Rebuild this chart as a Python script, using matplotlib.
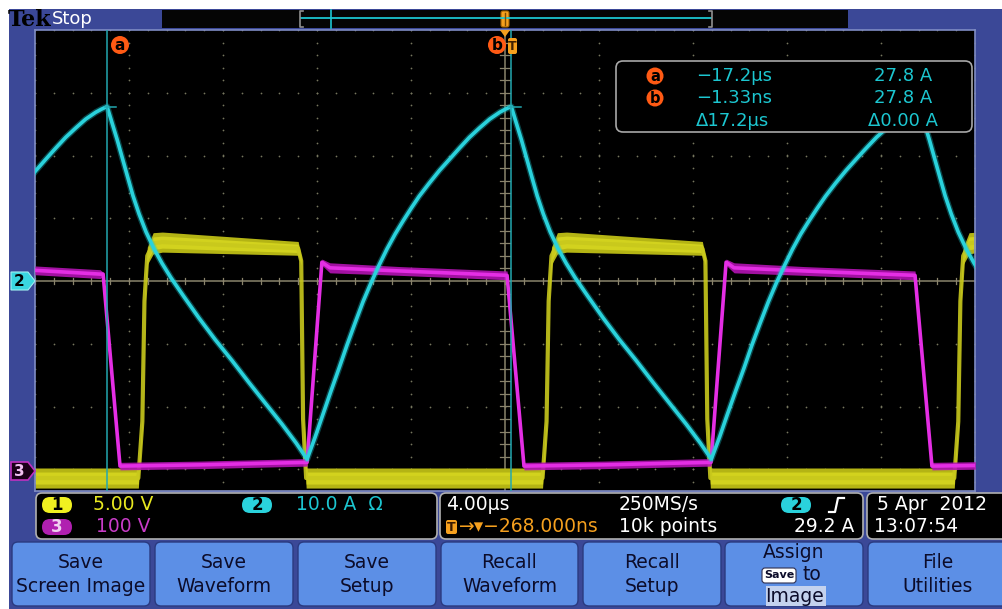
import matplotlib
matplotlib.use("Agg")
import matplotlib.pyplot as plt
from matplotlib.patches import FancyBboxPatch, Rectangle, Circle, Polygon
import numpy as np

W, H = 1002, 609

# ---------------- scope settings ----------------
time_per_div = 4.0        # µs/div
t_center = -0.268         # µs at screen centre
ch1_scale = 5.0           # V/div (yellow)
ch2_scale = 10.0          # A/div (cyan)
ch3_scale = 100.0         # V/div (magenta)
ch1_pos = -3.0            # div
ch2_pos = 0.0
ch3_pos = -3.0

cursor_a_t = -17.2        # µs
cursor_b_t = -0.00133     # µs
cursor_i = 27.8           # A

# ---------------- Ch2 : inductor current (A) ----------------
ch2_t = [-20.66, -20.23, -19.81, -19.38, -18.96, -18.53, -18.11, -17.68, -17.43, -17.20,
         -16.99, -16.77, -16.56, -16.35, -16.10, -15.84, -15.54, -15.20, -14.86, -14.48,
         -13.93, -13.29, -12.61, -11.88, -11.16, -10.44, -9.76, -9.16, -8.69,
         -8.35, -8.01, -7.67, -7.33, -6.99, -6.65, -6.31, -5.97, -5.63, -5.29, -4.94,
         -4.60, -4.26, -3.92, -3.49, -3.06, -2.63, -2.20, -1.78, -1.35, -0.92, -0.49,
         -0.24, 0.00,
         0.21, 0.43, 0.64, 0.85, 1.10, 1.36, 1.66, 2.00, 2.34, 2.72,
         3.27, 3.91, 4.59, 5.32, 6.04, 6.76, 7.44, 8.04, 8.51,
         8.86, 9.20, 9.55, 9.90, 10.24, 10.59, 10.94, 11.28, 11.63, 11.97, 12.32,
         12.67, 13.02, 13.37, 13.80, 14.24, 14.67, 15.11, 15.54, 15.98, 16.40, 16.84,
         17.10, 17.36,
         17.57, 17.79, 18.00, 18.21, 18.46, 18.72, 19.02, 19.36, 19.70, 20.08]
ch2_i = [15.6, 17.6, 19.4, 21.2, 22.9, 24.4, 25.8, 26.9, 27.4, 27.8,
         25.2, 22.5, 19.7, 16.9, 13.6, 10.7, 7.8, 5.1, 2.8, 0.5,
         -2.5, -5.9, -9.3, -12.7, -16.2, -19.6, -22.8, -25.8, -28.4,
         -24.9, -21.2, -17.5, -13.9, -10.2, -6.7, -3.3, -0.3, 2.5, 5.1, 7.5,
         9.6, 11.6, 13.5, 15.6, 17.6, 19.4, 21.2, 22.9, 24.4, 25.8, 26.9,
         27.4, 27.8,
         25.2, 22.5, 19.7, 16.9, 13.6, 10.7, 7.8, 5.1, 2.8, 0.5,
         -2.5, -5.9, -9.3, -12.7, -16.2, -19.6, -22.8, -25.8, -28.4,
         -24.9, -21.2, -17.5, -13.9, -10.2, -6.7, -3.3, -0.3, 2.5, 5.1, 7.5,
         9.6, 11.6, 13.5, 15.6, 17.6, 19.4, 21.2, 22.9, 24.4, 25.8, 26.9,
         27.4, 27.8,
         25.2, 22.5, 19.7, 16.9, 13.6, 10.7, 7.8, 5.1, 2.8, 0.5]

# ---------------- Ch3 : switch node voltage (V) ----------------
ch3_t = [-20.27, -17.50, -17.37, -16.65, -13.25, -8.69, -8.06, -7.72, -4.74, -0.18,
         0.54, 3.94, 8.50, 9.14, 9.48, 12.46, 17.18, 17.90, 19.75]
ch3_v = [317, 311, 311, 5, 7, 11, 330, 321, 316, 309,
         5, 7, 11, 330, 321, 316, 309, 5, 6]
ch3_noise = [7, 7, 3, 6, 6, 6, 5, 8, 7, 7,
             6, 6, 6, 5, 8, 7, 7, 6, 6]      # half-width of the noise band (V)

# ---------------- Ch1 : gate drive (V) ----------------
ch1_t = [-20.27, -15.87, -15.70, -15.61, -15.49, -15.24, -14.85, -9.07, -8.94, -8.86, -8.73,
         1.33, 1.50, 1.59, 1.71, 1.96, 2.35, 8.13, 8.26, 8.34, 8.47,
         18.85, 19.02, 19.11, 19.23, 19.48, 19.87]
ch1_v = [-0.7, -0.7, 3.8, 13.4, 17.0, 18.0, 18.1, 17.6, 16.6, 4.0, -0.7,
         -0.7, 3.8, 13.4, 17.0, 18.0, 18.1, 17.6, 16.6, 4.0, -0.7,
         -0.7, 3.8, 13.4, 17.0, 18.0, 18.1]
ch1_noise = [0.8, 0.8, 0.25, 0.25, 0.7, 0.85, 0.8, 0.55, 0.35, 0.25, 0.8,
             0.8, 0.25, 0.25, 0.7, 0.85, 0.8, 0.55, 0.35, 0.25, 0.8,
             0.8, 0.25, 0.25, 0.7, 0.85, 0.8]   # half-width of the noise band (V)

# ---------------- colours ----------------
BLUE = '#3b4897'
BTN = '#5c8fe6'
CYAN = '#1cc6d0'
ORANGE = '#ff5a14'
TORANGE = '#f5a01e'
GRID = '#76765e'

fig = plt.figure(figsize=(W / 100, H / 100), dpi=100)
fig.patch.set_facecolor('white')

# ---------------- background layer ----------------
bg = fig.add_axes([0, 0, 1, 1], zorder=0)
bg.set_xlim(0, W); bg.set_ylim(H, 0); bg.axis('off')
bg.add_patch(Rectangle((9, 9), W - 9, H - 9, color=BLUE, lw=0))

# top bar
bg.text(8, 20, 'Tek', family='DejaVu Serif', weight='bold', fontsize=16,
        color='black', va='center', ha='left')
bg.text(52, 19, 'Stop', family='DejaVu Sans', fontsize=13, color='white', va='center', ha='left')
bg.add_patch(Rectangle((162, 10), 686, 18, color='#050505', lw=0))
bg.plot([301, 711], [18, 18], color=CYAN, lw=1.3)
bg.plot([331, 331], [10, 28], color=CYAN, lw=1.2)
for xb, d in [(300, 1), (712, -1)]:
    bg.plot([xb + 3 * d, xb, xb, xb + 3 * d], [11, 11, 27, 27], color='#909090', lw=1.2)
bg.add_patch(FancyBboxPatch((501, 11), 8, 16, boxstyle='round,pad=0,rounding_size=2',
                            fc=TORANGE, ec='#a06000', lw=0.8))
bg.plot([505, 505], [13, 25], color='#7a4a00', lw=1)

# ---------------- scope graticule ----------------
ytop_px, ybot_px, ycen_px, px_div = 30, 491, 281, 62.75
ax = fig.add_axes([35 / W, 1 - ybot_px / H, 940 / W, (ybot_px - ytop_px) / H], zorder=1)
ax.set_facecolor('black')
ax.set_xlim(t_center - 5 * time_per_div, t_center + 5 * time_per_div)
ax.set_ylim(-(ybot_px - ycen_px) / px_div, 4)
ax.set_xticks([]); ax.set_yticks([])
for s in ax.spines.values():
    s.set_color('#7f8cc4'); s.set_linewidth(1.2)

xmaj = t_center + time_per_div * np.arange(-5, 6)
ymaj = np.arange(-3, 5)
xmin_ = t_center + time_per_div * np.arange(-5, 5.01, 0.2)
ymin_ = np.arange(-4, 4.01, 0.2)
for xv in xmaj:
    if abs(xv - t_center) > 1e-6:
        ax.scatter(np.full(ymin_.size, xv), ymin_, s=1.6, color=GRID, lw=0, zorder=1)
for yv in ymaj:
    if yv != 0:
        ax.scatter(xmin_, np.full(xmin_.size, yv), s=1.6, color=GRID, lw=0, zorder=1)
ax.axhline(0, color='#8a846c', lw=1.1, zorder=1)
ax.axvline(t_center, color='#8a846c', lw=1.1, zorder=1)
for xv in xmin_:
    ax.plot([xv, xv], [-0.05, 0.05], color='#8a846c', lw=0.9, zorder=1)
for yv in ymin_:
    ax.plot([t_center - 0.2, t_center + 0.2], [yv, yv], color='#8a846c', lw=0.9, zorder=1)

# traces (converted to divisions)
y1 = np.array(ch1_v) / ch1_scale + ch1_pos
n1 = np.array(ch1_noise) / ch1_scale
y2 = np.array(ch2_i) / ch2_scale + ch2_pos
y3 = np.array(ch3_v) / ch3_scale + ch3_pos
n3 = np.array(ch3_noise) / ch3_scale

ax.fill_between(ch1_t, y1 - n1, y1 + n1, color='#b4b414', lw=0, zorder=2)
ax.fill_between(ch1_t, y1 - n1 * 0.6, y1 + n1 * 0.6, color='#d2d21e', lw=0, zorder=2)
ax.plot(ch1_t, y1, color='#c8c81c', lw=3.0, alpha=0.9, zorder=2)
ax.fill_between(ch3_t, y3 - n3, y3 + n3, color='#b414b4', lw=0, alpha=0.9, zorder=3)
ax.plot(ch3_t, y3, color='#e42ee4', lw=2.6, zorder=3)
ax.plot(ch2_t, y2, color=CYAN, lw=4.6, alpha=0.35, zorder=4, solid_joinstyle='round')
ax.plot(ch2_t, y2, color='#2ad2dc', lw=2.6, zorder=4, solid_joinstyle='round')

ax.axvline(cursor_a_t, color='#22a8b0', lw=1.1, zorder=5)
ax.axvline(cursor_b_t, color='#22a8b0', lw=1.1, zorder=5)
for ct in (cursor_a_t, cursor_b_t):
    ax.plot([ct - 0.1, ct + 0.4], [cursor_i / ch2_scale] * 2, color='#22a8b0', lw=1.1, zorder=5)

# ---------------- foreground layer ----------------
fg = fig.add_axes([0, 0, 1, 1], zorder=3)
fg.set_xlim(0, W); fg.set_ylim(H, 0); fg.axis('off'); fg.patch.set_alpha(0)

def badge(x, y, letter, r=9, fs=11):
    fg.add_patch(Circle((x, y), r, fc=ORANGE, ec='none'))
    fg.text(x, y + 0.5, letter, color='black', fontsize=fs, weight='bold', ha='center', va='center')

badge(120, 45, 'a')
badge(497, 45, 'b')
fg.add_patch(FancyBboxPatch((508, 38), 9, 16, boxstyle='round,pad=0,rounding_size=2',
                            fc=TORANGE, ec='none'))
fg.text(512.5, 46, 'T', color='#402000', fontsize=9, weight='bold', ha='center', va='center')
fg.add_patch(Polygon([[500, 30], [510, 30], [505, 37]], closed=True, fc=TORANGE, ec='none'))

# channel markers on left
fg.add_patch(Polygon([[11, 272], [28, 272], [35, 281], [28, 290], [11, 290]], closed=True,
                     fc='#3ad6e0', ec='#a0f0f0', lw=0.8))
fg.text(19, 281, '2', color='black', fontsize=11, weight='bold', ha='center', va='center')
fg.add_patch(Polygon([[11, 462], [28, 462], [35, 471], [28, 480], [11, 480]], closed=True,
                     fc='#1a0018', ec='#c030c0', lw=1.2))
fg.text(19, 471, '3', color='#f0c0f0', fontsize=11, weight='bold', ha='center', va='center')

# measurement readout box
fg.add_patch(FancyBboxPatch((616, 61), 356, 71, boxstyle='round,pad=0,rounding_size=7',
                            fc='black', ec='#a8a8a8', lw=1.2))
rows = [(76, 'a', '\u221217.2\u00b5s', '27.8 A'),
        (98, 'b', '\u22121.33ns', '27.8 A'),
        (121, None, '\u039417.2\u00b5s', '\u03940.00 A')]
for yy, lab, tv, av in rows:
    if lab:
        badge(655, yy, lab, r=8.5, fs=10.5)
    fg.text(696, yy, tv, color=CYAN, fontsize=13, ha='left', va='center')
    fg.text(903, yy, av, color=CYAN, fontsize=13, ha='center', va='center')

# bottom readout panels
for x0, x1 in [(36, 437), (440, 863), (867, 1010)]:
    fg.add_patch(FancyBboxPatch((x0, 493), x1 - x0, 46, boxstyle='round,pad=0,rounding_size=6',
                                fc='black', ec='#b0b0b0', lw=1.2))

def oval(x, y, txt, fc, tc):
    fg.add_patch(FancyBboxPatch((x - 15, y - 8), 30, 16, boxstyle='round,pad=0,rounding_size=8',
                                fc=fc, ec='none'))
    fg.text(x, y + 0.5, txt, color=tc, fontsize=12, weight='bold', ha='center', va='center')

FS = 13.5
oval(57, 505, '1', '#f0f020', 'black')
fg.text(93, 505, '5.00 V', color='#e8e820', fontsize=FS, ha='left', va='center')
oval(257, 505, '2', '#2ad2dc', 'black')
fg.text(296, 505, '10.0 A  \u03a9', color=CYAN, fontsize=FS, ha='left', va='center')
oval(57, 527, '3', '#b020b0', '#f0d0f0')
fg.text(96, 527, '100 V', color='#c83cc8', fontsize=FS, ha='left', va='center')

fg.text(446, 505, '4.00\u00b5s', color='white', fontsize=FS, ha='left', va='center')
fg.text(619, 505, '250MS/s', color='white', fontsize=FS, ha='left', va='center')
oval(796, 505, '2', '#2ad2dc', 'black')
fg.plot([829, 835, 838, 844], [512, 512, 498, 498], color='white', lw=1.6)
fg.add_patch(FancyBboxPatch((446, 520), 11, 14, boxstyle='round,pad=0,rounding_size=2',
                            fc=TORANGE, ec='none'))
fg.text(451.5, 527.5, 'T', color='#3a1a00', fontsize=9, weight='bold', ha='center', va='center')
fg.text(459, 527, '\u2192\u25be\u2212268.000ns', color=TORANGE, fontsize=FS, ha='left', va='center')
fg.text(619, 527, '10k points', color='white', fontsize=FS, ha='left', va='center')
fg.text(854, 527, '29.2 A', color='white', fontsize=FS, ha='right', va='center')
fg.text(877, 505, '5 Apr  2012', color='white', fontsize=FS, ha='left', va='center')
fg.text(874, 527, '13:07:54', color='white', fontsize=FS, ha='left', va='center')

# bottom buttons
btns = [(12, 150, ['Save', 'Screen Image']), (155, 293, ['Save', 'Waveform']),
        (298, 436, ['Save', 'Setup']), (441, 578, ['Recall', 'Waveform']),
        (583, 721, ['Recall', 'Setup']), (725, 863, None), (868, 1010, ['File', 'Utilities'])]
bfont = ['Liberation Sans Narrow', 'DejaVu Sans']
for x0, x1, lines in btns:
    fg.add_patch(FancyBboxPatch((x0, 542), x1 - x0, 64, boxstyle='round,pad=0,rounding_size=6',
                                fc=BTN, ec='#2a3a80', lw=1.0))
    xc = (x0 + x1) / 2 if x1 < 1002 else (x0 + 1002) / 2 + 3
    if lines:
        fg.text(xc, 563, lines[0], color='#0c0c2a', fontsize=13.5, family=bfont, ha='center', va='center')
        fg.text(xc, 586, lines[1], color='#0c0c2a', fontsize=13.5, family=bfont, ha='center', va='center')
# assign button
fg.text(794, 553, 'Assign', color='#0c0c2a', fontsize=13.5, family=bfont, ha='center', va='center')
fg.add_patch(FancyBboxPatch((762, 568), 34, 15, boxstyle='round,pad=0,rounding_size=3',
                            fc='white', ec='#303050', lw=0.8))
fg.text(779, 575.5, 'Save', color='#0c0c2a', fontsize=8, weight='bold', family=bfont, ha='center', va='center')
fg.text(812, 575, 'to', color='#0c0c2a', fontsize=13.5, family=bfont, ha='center', va='center')
fg.add_patch(Rectangle((766, 586), 60, 20, fc='#c4d2ee', ec='none'))
fg.text(795, 596, 'Image', color='#0c0c2a', fontsize=13.5, family=bfont, ha='center', va='center')

fig.savefig('out.png', dpi=100, facecolor=fig.get_facecolor())
